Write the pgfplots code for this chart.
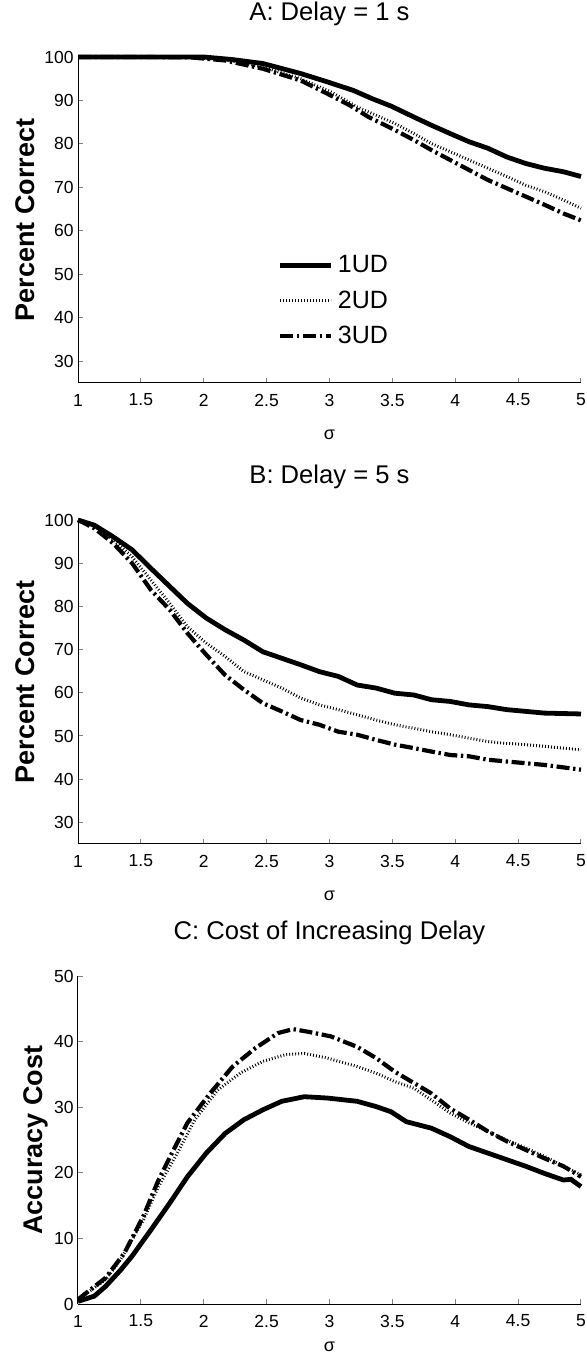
\documentclass[border=0pt]{standalone}
\usepackage{fontspec}
\setmainfont{Liberation Sans}
\usepackage{pgfplots}
\pgfplotsset{compat=1.18}
\begin{document}
\begin{tikzpicture}
\useasboundingbox (0pt,0pt) rectangle (293pt,679.5pt);
\pgfplotsset{
  panel/.style={
    scale only axis, width=251.5pt,
    axis lines=left, axis line style={-, line width=0.5pt},
    tick align=inside, major tick length=2.5pt, tick style={line width=0.5pt},
    xmin=1, xmax=5, xtick={1,1.5,...,5},
    clip=false,
    /pgf/number format/assume math mode=true,
    tick label style={font=\fontsize{8.75}{10}\selectfont},
    xticklabel style={anchor=center, yshift=-8.5pt},
    yticklabel style={inner sep=2pt},
    title style={at={([yshift=15.5pt]axis description cs:0.5,1)}, anchor=center, font=\fontsize{12.8}{14}\selectfont},
    xlabel={σ},
    xlabel style={at={([yshift=-26pt]axis description cs:0.5,0)}, anchor=center, font=\fontsize{9}{10}\selectfont},
    ylabel style={anchor=center, font=\bfseries\fontsize{13.5}{15}\selectfont},
  },
  s1/.style={black, line width=2.4pt},
  s2/.style={black, line width=1.5pt, dash pattern=on 0.45pt off 1.05pt},
  s3/.style={black, line width=2.1pt, dash pattern=on 6.5pt off 1.8pt on 1.2pt off 1.8pt},
}
% Panel A
\begin{axis}[panel, at={(39pt,488pt)}, anchor=south west, height=163pt,
  ymin=25, ymax=100, ytick={30,40,...,100},
  title={A: Delay = 1 s}, ylabel={Percent Correct},
  ylabel style={at={([xshift=-26.5pt]axis description cs:0,0.5)}},
  legend style={at={(0.397,0.405)}, anchor=north west, draw=none, fill=none, inner sep=0pt,
    font=\fontsize{12.5}{15}\selectfont, row sep=3.5pt},
  legend cell align=left,
  legend image code/.code={\draw[#1] (0pt,0pt) -- (25.5pt,0pt);},
]
\addplot[s1] coordinates {(1,100)(1.5,100)(2.0,100)(2.23,99.4)(2.47,98.5)(2.77,96.2)(2.98,94.3)(3.19,92.3)(3.34,90.4)(3.49,88.7)(3.67,86.2)(3.81,84.3)(3.99,82.0)(4.11,80.5)(4.26,79.0)(4.41,77.0)(4.56,75.5)(4.71,74.4)(4.86,73.6)(5,72.5)};
\addlegendentry{1UD}
\addplot[s2] coordinates {(1,100)(1.5,100)(1.9,99.9)(2.17,99.4)(2.47,97.7)(2.77,95.0)(3.01,92.0)(3.22,88.5)(3.37,86.6)(3.52,84.7)(3.67,82.4)(3.81,80.1)(3.96,78.2)(4.11,76.3)(4.26,74.4)(4.41,72.5)(4.56,70.5)(4.71,69.0)(4.86,67.1)(5,65.2)};
\addlegendentry{2UD}
\addplot[s3] coordinates {(1,100)(1.5,100)(1.9,99.9)(2.17,99.2)(2.47,97.3)(2.77,94.6)(2.98,91.6)(3.16,88.9)(3.31,86.2)(3.52,83.2)(3.67,80.9)(3.81,78.6)(3.96,76.3)(4.11,74.0)(4.26,71.7)(4.41,69.8)(4.56,67.9)(4.71,66.0)(4.86,64.0)(5,62.4)};
\addlegendentry{3UD}
\end{axis}
% Panel B
\begin{axis}[panel, at={(39pt,257.5pt)}, anchor=south west, height=162pt,
  ymin=25, ymax=100, ytick={30,40,...,100},
  title={B: Delay = 5 s}, ylabel={Percent Correct},
  ylabel style={at={([xshift=-26.5pt]axis description cs:0,0.5)}},
]
\addplot[s1] coordinates {(1,100)(1.13,98.8)(1.28,96.1)(1.43,93.1)(1.58,88.8)(1.73,84.6)(1.87,80.7)(2.02,77.3)(2.17,74.6)(2.32,72.2)(2.47,69.5)(2.62,68.0)(2.77,66.5)(2.92,64.9)(3.07,63.8)(3.22,61.8)(3.37,61.1)(3.52,59.9)(3.67,59.5)(3.81,58.4)(3.96,58.0)(4.11,57.2)(4.26,56.8)(4.41,56.1)(4.56,55.7)(4.71,55.3)(5,55.1)};
\addplot[s2] coordinates {(1,100)(1.13,98.5)(1.28,95.4)(1.43,91.5)(1.58,86.1)(1.73,80.7)(1.87,75.3)(2.02,71.5)(2.17,68.4)(2.32,64.9)(2.47,63.0)(2.62,61.1)(2.77,58.8)(2.92,57.2)(3.07,56.1)(3.22,54.9)(3.37,53.7)(3.52,52.6)(3.67,51.8)(3.81,51.0)(3.96,50.3)(4.11,49.5)(4.26,48.7)(4.41,48.3)(4.56,48.0)(4.71,47.6)(5,46.8)};
\addplot[s3] coordinates {(1,100)(1.13,98.1)(1.28,94.6)(1.43,90.0)(1.58,83.8)(1.73,79.2)(1.87,73.8)(2.02,68.8)(2.17,64.1)(2.32,60.7)(2.47,57.6)(2.62,55.7)(2.77,53.7)(2.92,52.6)(3.07,51.0)(3.22,50.3)(3.37,49.1)(3.52,48.0)(3.67,47.2)(3.81,46.4)(3.96,45.6)(4.11,45.3)(4.26,44.5)(4.41,44.1)(4.56,43.7)(4.71,43.3)(5,42.2)};
\end{axis}
% Panel C
\begin{axis}[panel, at={(39pt,27.5pt)}, anchor=south west, height=164pt,
  ymin=0, ymax=50, ytick={0,10,...,50},
  title={C: Cost of Increasing Delay}, ylabel={Accuracy Cost},
  ylabel style={at={([xshift=-21pt]axis description cs:0,0.5)}},
  xlabel style={at={([yshift=-21.5pt]axis description cs:0.5,0)}},
]
\addplot[s1] coordinates {(1,0.4)(1.13,1.2)(1.22,2.7)(1.34,5.2)(1.43,7.3)(1.58,11.3)(1.73,15.4)(1.87,19.4)(2.02,23.0)(2.17,26.0)(2.32,28.1)(2.47,29.6)(2.62,30.9)(2.80,31.6)(2.98,31.4)(3.22,30.9)(3.37,30.1)(3.49,29.3)(3.61,27.8)(3.81,26.8)(3.96,25.5)(4.11,24.0)(4.26,23.0)(4.41,22.0)(4.56,21.0)(4.71,19.9)(4.86,18.9)(4.92,19.0)(5,17.9)};
\addplot[s2] coordinates {(1,0.7)(1.22,3.7)(1.34,6.8)(1.52,12.8)(1.64,17.9)(1.79,23.0)(1.93,28.1)(2.11,32.6)(2.29,35.2)(2.47,37.0)(2.65,38.0)(2.80,38.2)(2.98,37.5)(3.22,36.2)(3.37,35.2)(3.52,33.9)(3.67,32.9)(3.81,31.1)(3.96,29.1)(4.11,27.6)(4.26,26.3)(4.41,25.0)(4.56,23.8)(4.71,22.5)(4.86,21.0)(5,19.7)};
\addplot[s3] coordinates {(1,0.7)(1.22,4.0)(1.37,7.8)(1.52,13.4)(1.64,18.9)(1.76,23.5)(1.87,27.6)(2.05,32.1)(2.23,36.2)(2.41,39.0)(2.59,41.3)(2.71,41.9)(2.83,41.5)(3.01,40.8)(3.22,39.2)(3.37,37.5)(3.52,35.4)(3.67,33.7)(3.81,32.1)(3.96,29.8)(4.11,28.1)(4.26,26.3)(4.41,24.8)(4.56,23.5)(4.71,22.2)(4.86,21.0)(5,19.4)};
\end{axis}
\end{tikzpicture}
\end{document}
